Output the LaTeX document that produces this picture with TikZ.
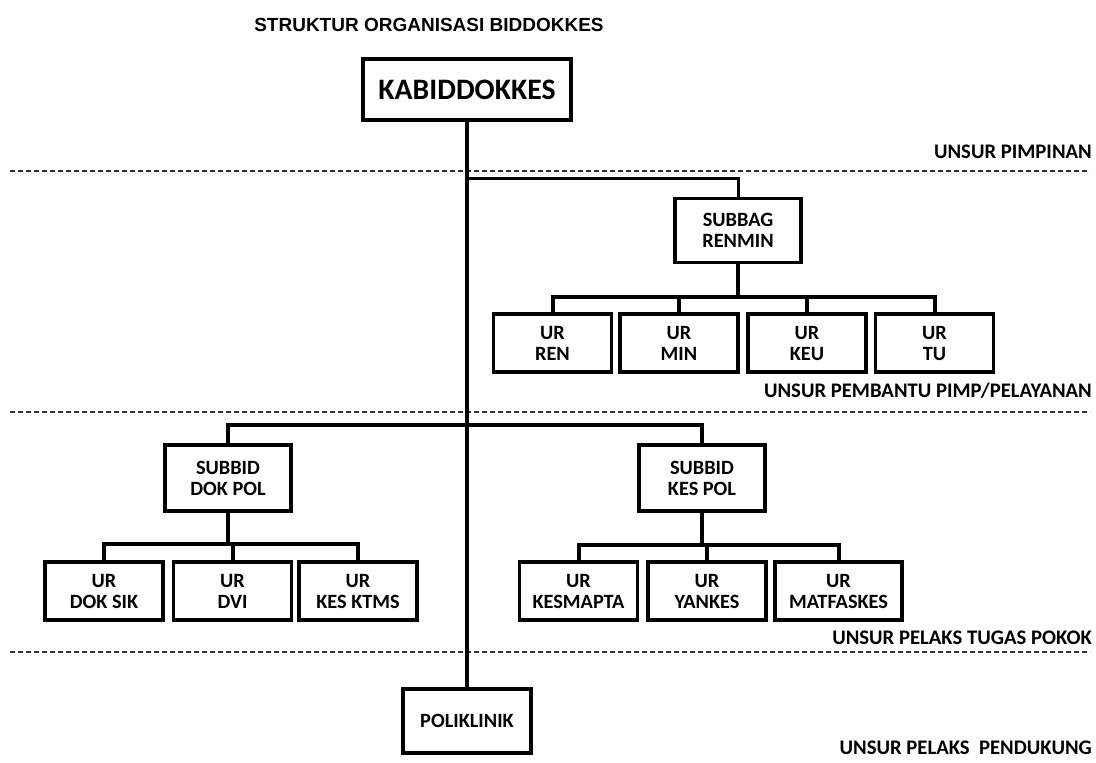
\documentclass[tikz,border=0pt]{standalone}
\usepackage{fontspec}
\setmainfont{Carlito}
\newfontfamily\titlefont{Liberation Sans}
\usepackage{tikz}
\usetikzlibrary{positioning,calc}
\tikzstyle{unitbox}=[draw=black, line width=3.5pt, fill=white, align=center, inner sep=0pt, minimum width=118pt, minimum height=58pt, font=\bfseries\fontsize{20.3}{21}\selectfont]
\tikzstyle{subbox}=[unitbox, minimum width=126pt, minimum height=64pt]
\tikzstyle{conn}=[line width=4pt]
\tikzstyle{divider}=[line width=1.2pt, black!80, dash pattern=on 5pt off 3pt]
\tikzstyle{levellabel}=[anchor=east, inner sep=0pt, font=\bfseries\fontsize{20.7}{22}\selectfont]

\begin{document}
\begin{tikzpicture}[x=1pt, y=-1pt]
      \useasboundingbox (0,0) rectangle (1096,763);
      %
      \node[font=\titlefont\bfseries\fontsize{19}{22}\selectfont] (title) at (429,25) {STRUKTUR ORGANISASI BIDDOKKES};
      \node[unitbox, minimum width=208pt, minimum height=61pt, font=\bfseries\fontsize{29.7}{31}\selectfont] (kabid) at (467,89.5) {KABIDDOKKES};
      %
      \foreach \y in {171,412,652}
        \draw[divider] (10,\y) -- (1090,\y);
      \node[levellabel] (lvl1) at (1092,152) {UNSUR PIMPINAN};
      \node[levellabel] (lvl2) at (1092,391) {UNSUR PEMBANTU PIMP/PELAYANAN};
      \node[levellabel] (lvl3) at (1092,638) {UNSUR PELAKS TUGAS POKOK};
      \node[levellabel] (lvl4) at (1092,748) {UNSUR PELAKS\ \ PENDUKUNG};
      %
      \node[subbox] (renmin) at (738,230.5) {SUBBAG\\RENMIN};
      \node[unitbox] (ren) at (552.5,343) {UR\\REN};
      \node[unitbox] (min) at (679,343) {UR\\MIN};
      \node[unitbox] (keu) at (807,343) {UR\\KEU};
      \node[unitbox] (tu) at (934.5,343) {UR\\TU};
      %
      \node[subbox, minimum height=66pt] (dokpol) at (228,478) {SUBBID\\DOK POL};
      \node[subbox, minimum height=66pt] (kespol) at (702,478) {SUBBID\\KES POL};
      \node[unitbox] (doksik) at (104,591) {UR\\DOK SIK};
      \node[unitbox] (dvi) at (232.5,591) {UR\\DVI};
      \node[unitbox] (ktms) at (358,591) {UR\\KES KTMS};
      \node[unitbox] (kesmapta) at (578.5,591) {UR\\KESMAPTA};
      \node[unitbox] (yankes) at (707,591) {UR\\YANKES};
      \node[unitbox, minimum width=127pt] (matfaskes) at (838.5,591) {UR\\MATFASKES};
      %
      \node[subbox, minimum width=128pt] (poli) at (467,721) {POLIKLINIK};
      %
      \coordinate (j1) at (467,178);
      \coordinate (b1) at (0,297);
      \coordinate (b2) at (0,425);
      \coordinate (b3) at (0,544);
      \coordinate (b4) at (0,545);
      \draw[conn] (kabid.south) -- (poli.north);
      \draw[conn, line width=3pt] (j1) -| (renmin.north);
      \foreach \c in {ren,min,keu,tu}
        \draw[conn] (renmin.south) |- (\c.north |- b1) -- (\c.north);
      \draw[conn] (dokpol.north) |- (kespol.north |- b2) -- (kespol.north);
      \foreach \c in {doksik,dvi,ktms}
        \draw[conn] (dokpol.south) |- (\c.north |- b3) -- (\c.north);
      \foreach \c in {kesmapta,yankes,matfaskes}
        \draw[conn] (kespol.south) |- (\c.north |- b4) -- (\c.north);
      %
\end{tikzpicture}
\end{document}
